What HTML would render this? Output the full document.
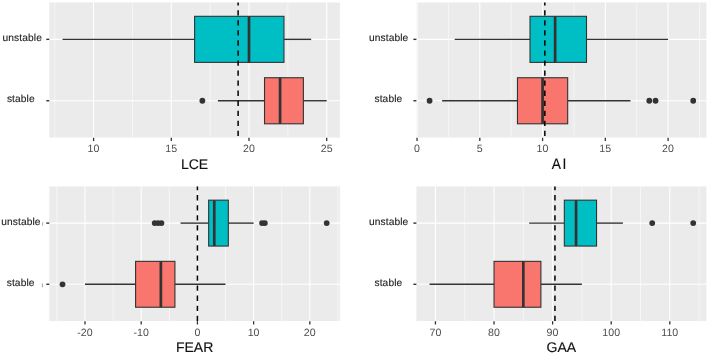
<!DOCTYPE html>
<html><head><meta charset="utf-8"><style>
html,body{margin:0;padding:0;background:#fff;}
body{width:708px;height:354px;overflow:hidden;}
svg{display:block;filter:blur(0.35px);}
text{text-rendering:geometricPrecision;font-family:"Liberation Sans",sans-serif;}
.tk{font-size:10.6px;fill:#4D4D4D;text-anchor:middle;letter-spacing:0.1px;}
.cat{font-size:10.2px;fill:#222;stroke:#222;stroke-width:0.12px;letter-spacing:0.1px;text-anchor:middle;}
.ttl{font-size:14px;fill:#111;stroke:#111;stroke-width:0.15px;text-anchor:middle;}
</style></head><body>
<svg width="708" height="354" viewBox="0 0 708 354">
<rect width="708" height="354" fill="#fff"/>
<rect x="49.3" y="2.5" width="290.6" height="135.1" fill="#EBEBEB"/>
<line x1="54.74" y1="2.5" x2="54.74" y2="137.6" stroke="#fff" stroke-width="0.55"/>
<line x1="132.44" y1="2.5" x2="132.44" y2="137.6" stroke="#fff" stroke-width="0.55"/>
<line x1="210.14" y1="2.5" x2="210.14" y2="137.6" stroke="#fff" stroke-width="0.55"/>
<line x1="287.84" y1="2.5" x2="287.84" y2="137.6" stroke="#fff" stroke-width="0.55"/>
<line x1="93.59" y1="2.5" x2="93.59" y2="137.6" stroke="#fff" stroke-width="1.1"/>
<line x1="171.29" y1="2.5" x2="171.29" y2="137.6" stroke="#fff" stroke-width="1.1"/>
<line x1="248.99" y1="2.5" x2="248.99" y2="137.6" stroke="#fff" stroke-width="1.1"/>
<line x1="326.69" y1="2.5" x2="326.69" y2="137.6" stroke="#fff" stroke-width="1.1"/>
<line x1="49.3" y1="39.35" x2="339.9" y2="39.35" stroke="#fff" stroke-width="1.1"/>
<line x1="49.3" y1="100.75" x2="339.9" y2="100.75" stroke="#fff" stroke-width="1.1"/>
<line x1="62.51" y1="39.35" x2="194.6" y2="39.35" stroke="#333333" stroke-width="1.4"/>
<line x1="283.96" y1="39.35" x2="311.15" y2="39.35" stroke="#333333" stroke-width="1.4"/>
<rect x="194.6" y="16.32" width="89.36" height="46.06" fill="#00BFC4" stroke="#333333" stroke-width="1.1"/>
<line x1="248.99" y1="16.32" x2="248.99" y2="62.37" stroke="#333333" stroke-width="2.7"/>
<line x1="217.91" y1="100.75" x2="264.53" y2="100.75" stroke="#333333" stroke-width="1.4"/>
<line x1="303.38" y1="100.75" x2="326.69" y2="100.75" stroke="#333333" stroke-width="1.4"/>
<rect x="264.53" y="77.73" width="38.85" height="46.06" fill="#F8766D" stroke="#333333" stroke-width="1.1"/>
<line x1="280.07" y1="77.73" x2="280.07" y2="123.78" stroke="#333333" stroke-width="2.7"/>
<circle cx="202.37" cy="100.75" r="2.9" fill="#333333"/>
<line x1="238.11" y1="2.5" x2="238.11" y2="137.6" stroke="#000" stroke-width="1.5" stroke-dasharray="5.3 4.75" stroke-dashoffset="2.35"/>
<line x1="93.59" y1="137.8" x2="93.59" y2="141.1" stroke="#333333" stroke-width="1.3"/>
<text x="93.59" y="151.5" class="tk">10</text>
<line x1="171.29" y1="137.8" x2="171.29" y2="141.1" stroke="#333333" stroke-width="1.3"/>
<text x="171.29" y="151.5" class="tk">15</text>
<line x1="248.99" y1="137.8" x2="248.99" y2="141.1" stroke="#333333" stroke-width="1.3"/>
<text x="248.99" y="151.5" class="tk">20</text>
<line x1="326.69" y1="137.8" x2="326.69" y2="141.1" stroke="#333333" stroke-width="1.3"/>
<text x="326.69" y="151.5" class="tk">25</text>
<line x1="46.3" y1="39.35" x2="49.3" y2="39.35" stroke="#333333" stroke-width="1.4"/>
<line x1="46.3" y1="100.75" x2="49.3" y2="100.75" stroke="#333333" stroke-width="1.4"/>
<text x="22.25" y="40.65" class="cat">unstable</text>
<text x="20.8" y="102.05" class="cat">stable</text>
<text x="194.6" y="168.85" class="ttl">LCE</text>
<rect x="416.4" y="2.5" width="290" height="135.1" fill="#EBEBEB"/>
<line x1="448.41" y1="2.5" x2="448.41" y2="137.6" stroke="#fff" stroke-width="0.55"/>
<line x1="511.18" y1="2.5" x2="511.18" y2="137.6" stroke="#fff" stroke-width="0.55"/>
<line x1="573.95" y1="2.5" x2="573.95" y2="137.6" stroke="#fff" stroke-width="0.55"/>
<line x1="636.72" y1="2.5" x2="636.72" y2="137.6" stroke="#fff" stroke-width="0.55"/>
<line x1="699.5" y1="2.5" x2="699.5" y2="137.6" stroke="#fff" stroke-width="0.55"/>
<line x1="417.03" y1="2.5" x2="417.03" y2="137.6" stroke="#fff" stroke-width="1.1"/>
<line x1="479.8" y1="2.5" x2="479.8" y2="137.6" stroke="#fff" stroke-width="1.1"/>
<line x1="542.57" y1="2.5" x2="542.57" y2="137.6" stroke="#fff" stroke-width="1.1"/>
<line x1="605.34" y1="2.5" x2="605.34" y2="137.6" stroke="#fff" stroke-width="1.1"/>
<line x1="668.11" y1="2.5" x2="668.11" y2="137.6" stroke="#fff" stroke-width="1.1"/>
<line x1="416.4" y1="39.35" x2="706.4" y2="39.35" stroke="#fff" stroke-width="1.1"/>
<line x1="416.4" y1="100.75" x2="706.4" y2="100.75" stroke="#fff" stroke-width="1.1"/>
<line x1="454.69" y1="39.35" x2="530.01" y2="39.35" stroke="#333333" stroke-width="1.4"/>
<line x1="586.51" y1="39.35" x2="668.11" y2="39.35" stroke="#333333" stroke-width="1.4"/>
<rect x="530.01" y="16.32" width="56.49" height="46.06" fill="#00BFC4" stroke="#333333" stroke-width="1.1"/>
<line x1="555.12" y1="16.32" x2="555.12" y2="62.37" stroke="#333333" stroke-width="2.7"/>
<line x1="442.14" y1="100.75" x2="517.46" y2="100.75" stroke="#333333" stroke-width="1.4"/>
<line x1="567.68" y1="100.75" x2="630.45" y2="100.75" stroke="#333333" stroke-width="1.4"/>
<rect x="517.46" y="77.73" width="50.22" height="46.06" fill="#F8766D" stroke="#333333" stroke-width="1.1"/>
<line x1="542.57" y1="77.73" x2="542.57" y2="123.78" stroke="#333333" stroke-width="2.7"/>
<circle cx="429.58" cy="100.75" r="2.9" fill="#333333"/>
<circle cx="649.28" cy="100.75" r="2.9" fill="#333333"/>
<circle cx="655.56" cy="100.75" r="2.9" fill="#333333"/>
<circle cx="693.22" cy="100.75" r="2.9" fill="#333333"/>
<line x1="544.83" y1="2.5" x2="544.83" y2="137.6" stroke="#000" stroke-width="1.5" stroke-dasharray="5.3 4.75" stroke-dashoffset="2.35"/>
<line x1="417.03" y1="137.8" x2="417.03" y2="141.1" stroke="#333333" stroke-width="1.3"/>
<text x="417.03" y="151.5" class="tk">0</text>
<line x1="479.8" y1="137.8" x2="479.8" y2="141.1" stroke="#333333" stroke-width="1.3"/>
<text x="479.8" y="151.5" class="tk">5</text>
<line x1="542.57" y1="137.8" x2="542.57" y2="141.1" stroke="#333333" stroke-width="1.3"/>
<text x="542.57" y="151.5" class="tk">10</text>
<line x1="605.34" y1="137.8" x2="605.34" y2="141.1" stroke="#333333" stroke-width="1.3"/>
<text x="605.34" y="151.5" class="tk">15</text>
<line x1="668.11" y1="137.8" x2="668.11" y2="141.1" stroke="#333333" stroke-width="1.3"/>
<text x="668.11" y="151.5" class="tk">20</text>
<line x1="413.4" y1="39.35" x2="416.4" y2="39.35" stroke="#333333" stroke-width="1.4"/>
<line x1="413.4" y1="100.75" x2="416.4" y2="100.75" stroke="#333333" stroke-width="1.4"/>
<text x="388.65" y="40.65" class="cat">unstable</text>
<text x="388.4" y="102.05" class="cat">stable</text>
<text transform="translate(551.8 168.85) scale(0.9 1)" x="0" y="0" class="ttl" style="text-anchor:start;font-size:15.3px">A</text>
<text transform="translate(562.6 168.85) scale(0.9 1)" x="0" y="0" class="ttl" style="text-anchor:start;font-size:15.3px">I</text>
<rect x="49.3" y="186.4" width="290.6" height="134.6" fill="#EBEBEB"/>
<line x1="56.89" y1="186.4" x2="56.89" y2="321" stroke="#fff" stroke-width="0.55"/>
<line x1="113.1" y1="186.4" x2="113.1" y2="321" stroke="#fff" stroke-width="0.55"/>
<line x1="169.31" y1="186.4" x2="169.31" y2="321" stroke="#fff" stroke-width="0.55"/>
<line x1="225.51" y1="186.4" x2="225.51" y2="321" stroke="#fff" stroke-width="0.55"/>
<line x1="281.72" y1="186.4" x2="281.72" y2="321" stroke="#fff" stroke-width="0.55"/>
<line x1="337.93" y1="186.4" x2="337.93" y2="321" stroke="#fff" stroke-width="0.55"/>
<line x1="84.99" y1="186.4" x2="84.99" y2="321" stroke="#fff" stroke-width="1.1"/>
<line x1="141.2" y1="186.4" x2="141.2" y2="321" stroke="#fff" stroke-width="1.1"/>
<line x1="197.41" y1="186.4" x2="197.41" y2="321" stroke="#fff" stroke-width="1.1"/>
<line x1="253.62" y1="186.4" x2="253.62" y2="321" stroke="#fff" stroke-width="1.1"/>
<line x1="309.83" y1="186.4" x2="309.83" y2="321" stroke="#fff" stroke-width="1.1"/>
<line x1="49.3" y1="223.11" x2="339.9" y2="223.11" stroke="#fff" stroke-width="1.1"/>
<line x1="49.3" y1="284.29" x2="339.9" y2="284.29" stroke="#fff" stroke-width="1.1"/>
<line x1="180.55" y1="223.11" x2="208.65" y2="223.11" stroke="#333333" stroke-width="1.4"/>
<line x1="228.33" y1="223.11" x2="253.62" y2="223.11" stroke="#333333" stroke-width="1.4"/>
<rect x="208.65" y="200.17" width="19.67" height="45.89" fill="#00BFC4" stroke="#333333" stroke-width="1.1"/>
<line x1="214.27" y1="200.17" x2="214.27" y2="246.05" stroke="#333333" stroke-width="2.7"/>
<circle cx="154.69" cy="223.11" r="2.9" fill="#333333"/>
<circle cx="158.06" cy="223.11" r="2.9" fill="#333333"/>
<circle cx="161.44" cy="223.11" r="2.9" fill="#333333"/>
<circle cx="262.05" cy="223.11" r="2.9" fill="#333333"/>
<circle cx="264.86" cy="223.11" r="2.9" fill="#333333"/>
<circle cx="326.69" cy="223.11" r="2.9" fill="#333333"/>
<line x1="84.99" y1="284.29" x2="135.58" y2="284.29" stroke="#333333" stroke-width="1.4"/>
<line x1="174.93" y1="284.29" x2="225.51" y2="284.29" stroke="#333333" stroke-width="1.4"/>
<rect x="135.58" y="261.35" width="39.35" height="45.89" fill="#F8766D" stroke="#333333" stroke-width="1.1"/>
<line x1="160.87" y1="261.35" x2="160.87" y2="307.23" stroke="#333333" stroke-width="2.7"/>
<circle cx="62.51" cy="284.29" r="2.9" fill="#333333"/>
<line x1="197.41" y1="186.4" x2="197.41" y2="321" stroke="#000" stroke-width="1.5" stroke-dasharray="5.3 4.75" stroke-dashoffset="1.35"/>
<line x1="84.99" y1="321.2" x2="84.99" y2="324.5" stroke="#333333" stroke-width="1.3"/>
<text x="84.99" y="335.6" class="tk">-20</text>
<line x1="141.2" y1="321.2" x2="141.2" y2="324.5" stroke="#333333" stroke-width="1.3"/>
<text x="141.2" y="335.6" class="tk">-10</text>
<line x1="197.41" y1="321.2" x2="197.41" y2="324.5" stroke="#333333" stroke-width="1.3"/>
<text x="197.41" y="335.6" class="tk">0</text>
<line x1="253.62" y1="321.2" x2="253.62" y2="324.5" stroke="#333333" stroke-width="1.3"/>
<text x="253.62" y="335.6" class="tk">10</text>
<line x1="309.83" y1="321.2" x2="309.83" y2="324.5" stroke="#333333" stroke-width="1.3"/>
<text x="309.83" y="335.6" class="tk">20</text>
<line x1="46.3" y1="223.11" x2="49.3" y2="223.11" stroke="#333333" stroke-width="1.4"/>
<line x1="46.3" y1="284.29" x2="49.3" y2="284.29" stroke="#333333" stroke-width="1.4"/>
<text x="20.9" y="225.01" class="cat">unstable</text>
<text x="20.65" y="286.19" class="cat">stable</text>
<text x="194.6" y="352.1" class="ttl">FEAR</text>
<rect x="416.4" y="186.4" width="290" height="134.6" fill="#EBEBEB"/>
<line x1="464.73" y1="186.4" x2="464.73" y2="321" stroke="#fff" stroke-width="0.55"/>
<line x1="523.32" y1="186.4" x2="523.32" y2="321" stroke="#fff" stroke-width="0.55"/>
<line x1="581.91" y1="186.4" x2="581.91" y2="321" stroke="#fff" stroke-width="0.55"/>
<line x1="640.49" y1="186.4" x2="640.49" y2="321" stroke="#fff" stroke-width="0.55"/>
<line x1="699.08" y1="186.4" x2="699.08" y2="321" stroke="#fff" stroke-width="0.55"/>
<line x1="435.44" y1="186.4" x2="435.44" y2="321" stroke="#fff" stroke-width="1.1"/>
<line x1="494.03" y1="186.4" x2="494.03" y2="321" stroke="#fff" stroke-width="1.1"/>
<line x1="552.61" y1="186.4" x2="552.61" y2="321" stroke="#fff" stroke-width="1.1"/>
<line x1="611.2" y1="186.4" x2="611.2" y2="321" stroke="#fff" stroke-width="1.1"/>
<line x1="669.78" y1="186.4" x2="669.78" y2="321" stroke="#fff" stroke-width="1.1"/>
<line x1="416.4" y1="223.11" x2="706.4" y2="223.11" stroke="#fff" stroke-width="1.1"/>
<line x1="416.4" y1="284.29" x2="706.4" y2="284.29" stroke="#fff" stroke-width="1.1"/>
<line x1="529.18" y1="223.11" x2="564.33" y2="223.11" stroke="#333333" stroke-width="1.4"/>
<line x1="596.55" y1="223.11" x2="622.92" y2="223.11" stroke="#333333" stroke-width="1.4"/>
<rect x="564.33" y="200.17" width="32.22" height="45.89" fill="#00BFC4" stroke="#333333" stroke-width="1.1"/>
<line x1="576.05" y1="200.17" x2="576.05" y2="246.05" stroke="#333333" stroke-width="2.7"/>
<circle cx="652.21" cy="223.11" r="2.9" fill="#333333"/>
<circle cx="693.22" cy="223.11" r="2.9" fill="#333333"/>
<line x1="429.58" y1="284.29" x2="494.03" y2="284.29" stroke="#333333" stroke-width="1.4"/>
<line x1="540.89" y1="284.29" x2="581.91" y2="284.29" stroke="#333333" stroke-width="1.4"/>
<rect x="494.03" y="261.35" width="46.87" height="45.89" fill="#F8766D" stroke="#333333" stroke-width="1.1"/>
<line x1="523.32" y1="261.35" x2="523.32" y2="307.23" stroke="#333333" stroke-width="2.7"/>
<line x1="554.96" y1="186.4" x2="554.96" y2="321" stroke="#000" stroke-width="1.5" stroke-dasharray="5.3 4.75" stroke-dashoffset="1.35"/>
<line x1="435.44" y1="321.2" x2="435.44" y2="324.5" stroke="#333333" stroke-width="1.3"/>
<text x="435.44" y="335.6" class="tk">70</text>
<line x1="494.03" y1="321.2" x2="494.03" y2="324.5" stroke="#333333" stroke-width="1.3"/>
<text x="494.03" y="335.6" class="tk">80</text>
<line x1="552.61" y1="321.2" x2="552.61" y2="324.5" stroke="#333333" stroke-width="1.3"/>
<text x="552.61" y="335.6" class="tk">90</text>
<line x1="611.2" y1="321.2" x2="611.2" y2="324.5" stroke="#333333" stroke-width="1.3"/>
<text x="611.2" y="335.6" class="tk">100</text>
<line x1="669.78" y1="321.2" x2="669.78" y2="324.5" stroke="#333333" stroke-width="1.3"/>
<text x="669.78" y="335.6" class="tk">110</text>
<line x1="413.4" y1="223.11" x2="416.4" y2="223.11" stroke="#333333" stroke-width="1.4"/>
<line x1="413.4" y1="284.29" x2="416.4" y2="284.29" stroke="#333333" stroke-width="1.4"/>
<text x="388.65" y="225.01" class="cat">unstable</text>
<text x="388.4" y="286.19" class="cat">stable</text>
<text x="561.4" y="352.1" class="ttl">GAA</text>
<line x1="42.6" y1="222.2" x2="42.6" y2="225.8" stroke="#999" stroke-width="0.8"/>
<line x1="42.4" y1="283.4" x2="42.4" y2="287.2" stroke="#888" stroke-width="0.8"/>
</svg>
</body></html>
